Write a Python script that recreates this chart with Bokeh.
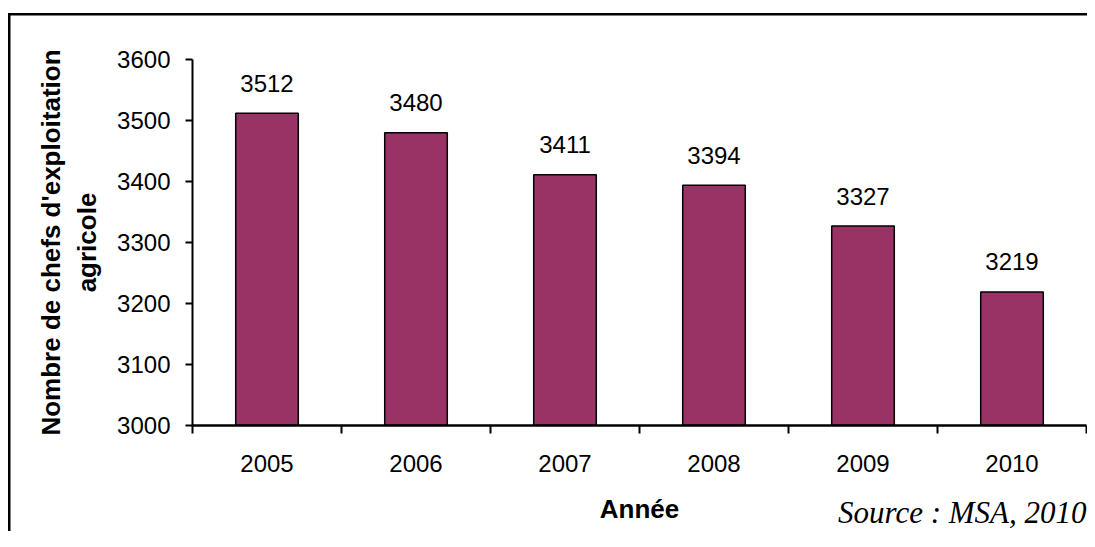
from bokeh.plotting import figure
from bokeh.models import ColumnDataSource, FixedTicker, Title, Range1d
from bokeh.core.properties import value
from bokeh.embed import file_html
from bokeh.resources import INLINE

years = ["2005", "2006", "2007", "2008", "2009", "2010"]
counts = [3512, 3480, 3411, 3394, 3327, 3219]
y_ticks = [3000, 3100, 3200, 3300, 3400, 3500, 3600]
y_title = "Nombre de chefs d'exploitation\nagricole"
x_title = "Année"
source_note = "Source : MSA, 2010"

pos = [i + 0.5 for i in range(len(years))]
src = ColumnDataSource(dict(x=pos, top=counts, label=[str(c) for c in counts]))

p = figure(width=1087, height=531, output_backend="svg", toolbar_location=None,
           x_range=Range1d(0, len(years)), y_range=Range1d(3000, 3600),
           min_border_left=192, min_border_right=1, min_border_top=59, min_border_bottom=106)
p.background_fill_color = "white"
p.border_fill_color = None
p.outline_line_color = None
p.grid.visible = False

# outer frame of the figure: left and top edges (the box runs past the window)
p.styles = {
    "background-color": "white",
    "background-image": "linear-gradient(#000, #000), linear-gradient(#000, #000)",
    "background-size": "2.5px 518px, 1079px 2.5px",
    "background-position": "8px 13px, 8px 13px",
    "background-repeat": "no-repeat",
}

p.vbar(x="x", top="top", bottom=3000, width=0.42, source=src,
       fill_color="#993366", line_color="black", line_width=1.5)
p.text(x="x", y="top", text="label", source=src, text_align="center",
       text_baseline="alphabetic", y_offset=-30,
       text_font=value("Liberation Sans"), text_font_size="24px", text_color="black")

# x axis
xa = p.xaxis[0]
xa.ticker = FixedTicker(ticks=pos, minor_ticks=list(range(len(years) + 1)))
xa.major_label_overrides = {p_: y for p_, y in zip(pos, years)}
xa.major_tick_line_color = None
xa.major_tick_out = 0
xa.major_tick_in = 0
xa.minor_tick_out = 8
xa.minor_tick_in = 0
xa.minor_tick_line_color = "black"
xa.minor_tick_line_width = 2
xa.axis_line_width = 2.5
xa.axis_line_color = "black"
xa.major_label_standoff = 21
xa.major_label_text_font = "Liberation Sans"
xa.major_label_text_font_size = "24px"
xa.major_label_text_color = "black"
xa.axis_label = x_title
xa.axis_label_text_font = "Liberation Sans"
xa.axis_label_text_font_size = "26px"
xa.axis_label_text_font_style = "bold"
xa.axis_label_text_color = "black"
xa.axis_label_standoff = 19

# y axis
ya = p.yaxis[0]
ya.ticker = FixedTicker(ticks=y_ticks)
ya.minor_tick_line_color = None
ya.major_tick_out = 7
ya.major_tick_in = 0
ya.major_tick_line_width = 2
ya.major_tick_line_color = "black"
ya.axis_line_width = 2
ya.axis_line_color = "black"
ya.major_label_standoff = 15
ya.major_label_text_font = "Liberation Sans"
ya.major_label_text_font_size = "24px"
ya.major_label_text_color = "black"
ya.axis_label = y_title
ya.axis_label_text_font = "Liberation Sans"
ya.axis_label_text_font_size = "26px"
ya.axis_label_text_font_style = "bold"
ya.axis_label_text_color = "black"
ya.axis_label_standoff = 12

# source note
t = Title(text=source_note, align="right", text_font="Liberation Serif",
          text_font_style="italic", text_font_size="31px", text_color="black",
          standoff=-64, vertical_align="top")
p.add_layout(t, "below")

open("out.html", "w").write(file_html(p, INLINE))
